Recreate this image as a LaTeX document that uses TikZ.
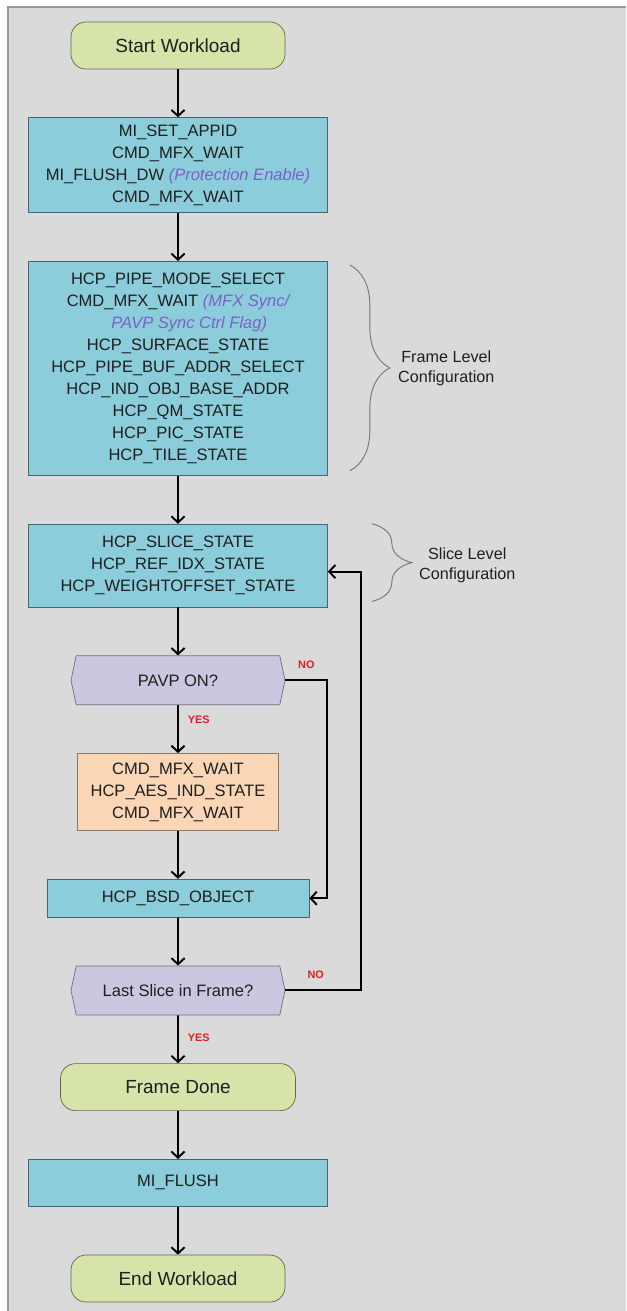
\documentclass[tikz,border=0pt]{standalone}
\usepackage{fontspec}
\setmainfont{Liberation Sans}
\usetikzlibrary{shapes.symbols, arrows.meta, positioning, decorations.pathreplacing}
\definecolor{bggray}{RGB}{218,218,218}
\definecolor{termgreen}{RGB}{214,228,170}
\definecolor{cmdblue}{RGB}{140,205,220}
\definecolor{asklilac}{RGB}{205,198,225}
\definecolor{aespeach}{RGB}{250,214,182}
\definecolor{notepurple}{RGB}{125,95,200}
\definecolor{answerred}{RGB}{225,30,30}
\newcommand{\flowfont}{\fontsize{9.4}{12.5}\selectfont}
\newcommand{\termfont}{\fontsize{10.8}{12.5}\selectfont}
\newcommand{\notefont}{\fontsize{9.2}{11.3}\selectfont}
\newcommand{\aside}[1]{{\color{notepurple}\itshape #1}}
\tikzset{
	flowchartnode/.style = {text centered, align=center, draw=black!60, inner sep=2pt, font=\flowfont, text=black!88},
	terminal/.style = {rectangle, rounded corners=0.3cm, flowchartnode, minimum width=4.28cm, minimum height=0.94cm, fill=termgreen, draw=black!55!termgreen, font=\termfont},
	process/.style = {rectangle, flowchartnode, minimum width=5.98cm, fill=cmdblue, draw=black!50!cmdblue},
	secure/.style = {rectangle, flowchartnode, fill=aespeach, draw=black!45!aespeach},
	decision/.style = {signal, signal to=west and east, signal pointer angle=156, flowchartnode, minimum width=4.28cm, minimum height=0.98cm, fill=asklilac, draw=black!45!asklilac},
	line/.style = {draw, line width=1.1pt, -{Straight Barb[length=3.5pt,width=7.5pt]}},
	answer/.style = {font=\bfseries\fontsize{6.2}{7}\selectfont, text=answerred},
	levelbrace/.style = {draw=black!55, line width=0.5pt, decorate, decoration={brace, amplitude=0.8cm}},
	levelnote/.style = {font=\notefont, align=center, inner sep=0pt, text=black!88}
}

\begin{document}
\begin{tikzpicture}[node distance=0.96cm]
		\useasboundingbox (0,0) rectangle (12.52,-26.22);
		\fill[bggray] (0.16,-0.14) rectangle (12.52,-26.22);
		\draw[black!40, line width=0.6pt] (0.16,-26.22) -- (0.16,-0.14) -- (12.52,-0.14);

		% flow nodes
		\node (start) [terminal] at (3.56,-0.91) {Start Workload};
		\node (protect) [process, below=of start, minimum height=1.9cm] {MI\_SET\_APPID\\CMD\_MFX\_WAIT\\MI\_FLUSH\_DW \aside{(Protection Enable)}\\CMD\_MFX\_WAIT};
		\node (frame) [process, below=of protect, minimum height=4.28cm] {HCP\_PIPE\_MODE\_SELECT\\CMD\_MFX\_WAIT \aside{(MFX Sync/}\\\hspace*{0.45cm}\aside{PAVP Sync Ctrl Flag)}\\HCP\_SURFACE\_STATE\\HCP\_PIPE\_BUF\_ADDR\_SELECT\\HCP\_IND\_OBJ\_BASE\_ADDR\\HCP\_QM\_STATE\\HCP\_PIC\_STATE\\HCP\_TILE\_STATE};
		\node (slice) [process, below=of frame, minimum height=1.66cm] {HCP\_SLICE\_STATE\\HCP\_REF\_IDX\_STATE\\HCP\_WEIGHTOFFSET\_STATE};
		\node (pavp) [decision, below=of slice] {PAVP ON?};
		\node (aes) [secure, below=of pavp, minimum width=4.02cm, minimum height=1.54cm] {CMD\_MFX\_WAIT\\HCP\_AES\_IND\_STATE\\CMD\_MFX\_WAIT};
		\node (bsd) [process, below=of aes, minimum width=5.24cm, minimum height=0.76cm] {HCP\_BSD\_OBJECT};
		\node (lastslice) [decision, below=of bsd] {Last Slice in Frame?};
		\node (framedone) [terminal, below=of lastslice, minimum width=4.7cm] {Frame Done};
		\node (flush) [process, below=of framedone, minimum height=0.94cm] {MI\_FLUSH};
		\node (finish) [terminal, below=of flush] {End Workload};

		% level braces
		\draw [levelbrace] ([xshift=0.44cm, yshift=-0.08cm]frame.north east) -- ([xshift=0.44cm, yshift=0.1cm]frame.south east);
		\node (framenote) [levelnote, right=1.4cm of frame.east] {Frame Level\\Configuration};
		\draw [levelbrace] ([xshift=0.88cm]slice.north east) -- ([xshift=0.88cm, yshift=0.12cm]slice.south east);
		\node (slicenote) [levelnote, right=1.82cm of slice.east] {Slice Level\\Configuration};

		% connectors
		\path [line] (start) -- (protect);
		\path [line] (protect) -- (frame);
		\path [line] (frame) -- (slice);
		\path [line] (slice) -- (pavp);
		\path [line] (pavp) -- node[answer, right, pos=0.3, xshift=0.06cm] {YES} (aes);
		\path [line] (pavp.east) -- node[answer, above, yshift=0.1cm] {NO} ++(0.84,0) |- (bsd.east);
		\path [line] (aes) -- (bsd);
		\path [line] (bsd) -- (lastslice);
		\path [line] (lastslice) -- node[answer, right, pos=0.47, xshift=0.06cm] {YES} (framedone);
		\path [line] (lastslice.east) -- node[answer, above, pos=0.4, yshift=0.1cm] {NO} ++(1.52,0) |- ([yshift=-0.12cm]slice.east);
		\path [line] (framedone) -- (flush);
		\path [line] (flush) -- (finish);
\end{tikzpicture}
\end{document}
